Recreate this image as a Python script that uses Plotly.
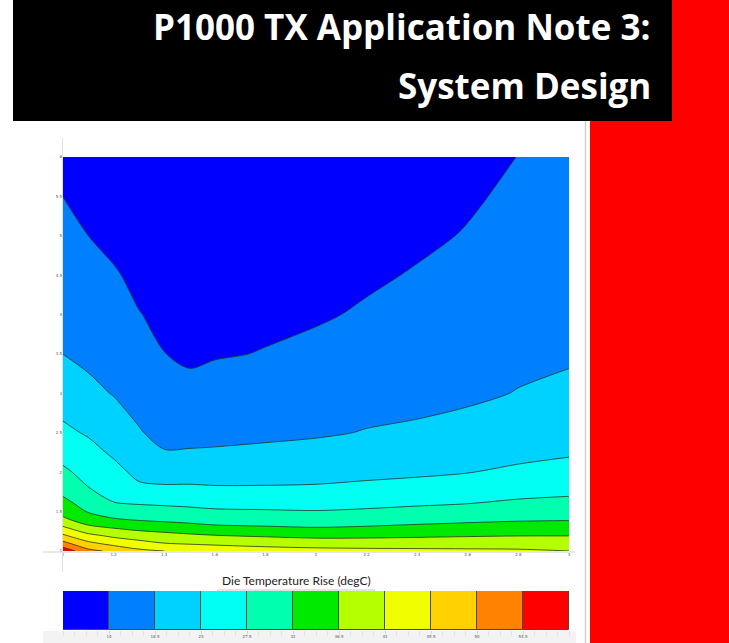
import plotly.graph_objects as go

# ---------------- data ----------------
x_vals = [1.0, 1.1, 1.2, 1.3, 1.4, 1.5, 1.6, 1.8, 2.0, 2.2, 2.4, 2.6, 2.8, 3.0]
y_vals = [1.0, 1.1, 1.2, 1.3, 1.4, 1.5, 1.6, 1.8, 2.0, 2.25, 2.5, 3.0, 3.5, 4.0, 4.5, 5.0, 5.5, 6.0]

# die temperature rise (degC), one row per y value, columns follow x_vals
z_rows = [
    [57.5, 51.3, 49.0, 46.5, 45.5, 44.8, 44.0, 43.0, 42.5, 42.2, 42.0, 41.8, 41.6, 41.0],
    [51.2, 46.4, 43.9, 42.35, 41.0, 40.4, 40.0, 39.3, 38.75, 38.65, 38.75, 38.9, 39.0, 38.6],
    [46.0, 41.9, 39.9, 38.6, 37.8, 37.1, 36.5, 35.8, 35.2, 35.3, 35.65, 36.0, 36.25, 36.3],
    [41.5, 37.4, 36.1, 35.0, 34.25, 33.5, 32.75, 32.35, 32.0, 32.3, 32.85, 33.3, 33.75, 33.9],
    [37.3, 34.25, 32.4, 31.6, 31.1, 30.7, 30.3, 30.1, 29.9, 30.2, 30.6, 31.1, 31.5, 31.7],
    [35.1, 31.7, 30.0, 29.4, 29.0, 28.6, 28.1, 27.9, 27.7, 28.1, 28.7, 29.3, 29.8, 30.1],
    [33.3, 30.4, 27.7, 27.3, 27.0, 26.7, 26.4, 26.3, 26.2, 26.5, 27.0, 27.5, 28.2, 28.6],
    [30.5, 27.6, 25.9, 23.7, 23.5, 23.5, 23.3, 23.3, 23.4, 23.8, 24.3, 25.1, 25.8, 26.25],
    [28.3, 26.1, 24.25, 22.0, 21.3, 21.4, 21.4, 21.5, 21.7, 22.1, 22.4, 22.9, 23.6, 24.3],
    [26.0, 24.3, 22.4, 20.5, 18.9, 19.0, 19.1, 19.5, 19.85, 20.4, 21.0, 21.6, 22.15, 22.6],
    [23.85, 22.6, 20.95, 19.0, 16.5, 16.6, 17.0, 17.5, 18.0, 18.7, 19.3, 20.25, 21.0, 21.6],
    [21.0, 19.6, 18.3, 16.0, 15.3, 15.4, 15.7, 15.9, 16.4, 16.9, 17.0, 17.6, 18.7, 19.7],
    [18.48, 17.5, 16.95, 15.0, 14.05, 13.2, 13.7, 14.15, 14.9, 15.6, 15.9, 16.8, 17.3, 17.8],
    [17.35, 16.5, 15.6, 14.1, 13.4, 12.8, 13.1, 13.3, 13.6, 14.4, 15.1, 16.0, 16.6, 17.2],
    [16.2, 15.3, 14.3, 13.3, 12.9, 12.4, 12.6, 12.9, 13.1, 13.5, 14.25, 15.2, 15.9, 16.6],
    [15.1, 14.0, 13.2, 12.6, 12.4, 12.0, 12.1, 12.4, 12.6, 13.0, 13.4, 14.2, 15.2, 16.0],
    [13.98, 13.0, 12.3, 12.0, 11.9, 11.6, 11.7, 12.0, 12.2, 12.5, 13.0, 13.6, 14.6, 15.4],
    [12.9, 12.1, 11.5, 11.4, 11.4, 11.2, 11.3, 11.6, 11.8, 12.1, 12.6, 13.0, 14.05, 14.8],
]

levels = [14, 18.5, 23, 27.5, 32, 36.5, 41, 45.5, 50, 54.5]
level_labels = ["14", "18.5", "23", "27.5", "32", "36.5", "41", "45.5", "50", "54.5"]
band_index = list(range(11))
band_colors = ["#0000FF", "#0080FF", "#00D2FF", "#00FFF2", "#00FFAE", "#00EA00",
               "#B4FF00", "#F0FF00", "#FFD200", "#FF8200", "#FF0000"]

x_ticks = [1, 1.2, 1.4, 1.6, 1.8, 2, 2.2, 2.4, 2.6, 2.8, 3]
y_ticks = [1, 1.5, 2, 2.5, 3, 3.5, 4, 4.5, 5, 5.5, 6]

title_line1 = "P1000 TX Application Note 3:"
title_line2 = "System Design"
cbar_title = "Die Temperature Rise (degC)"

# ---------------- layout helpers (pixel -> paper) ----------------
W, H = 729, 643
L, R, T, B = 63, 160, 157, 13
PW = W - L - R
PH = H - T - B


def px(x):
    return (x - L) / PW


def py(y):
    return (H - B - y) / PH


colorscale = [[k / 10, c] for k, c in enumerate(band_colors)]

fig = go.Figure()

fig.add_trace(go.Contour(
    x=x_vals, y=y_vals, z=z_rows,
    autocontour=False,
    contours=dict(start=levels[0], end=levels[-1], size=levels[1] - levels[0],
                  coloring="fill", showlabels=False),
    colorscale=colorscale,
    showscale=False,
    line=dict(color="#26342a", width=0.8, smoothing=0.9),
    hoverinfo="skip",
))

fig.add_trace(go.Bar(
    x=[1] * len(band_index), base=band_index, y=[0] * len(band_index),
    orientation="h", width=1,
    marker=dict(color=band_colors, line=dict(color="#4a4a3a", width=1)),
    xaxis="x2", yaxis="y2", hoverinfo="skip",
))

tick_font = dict(family="DejaVu Sans", size=4, color="#555555")

fig.update_layout(
    width=W, height=H,
    margin=dict(l=L, r=R, t=T, b=B, autoexpand=False),
    paper_bgcolor="white", plot_bgcolor="white",
    showlegend=False,
    xaxis=dict(range=[1, 3], tickvals=x_ticks, tickfont=tick_font, showgrid=False,
               zeroline=False, showline=False, ticks="", anchor="y", automargin=False),
    yaxis=dict(range=[1, 6], tickvals=y_ticks, tickfont=tick_font, showgrid=False,
               zeroline=False, showline=False, ticks="", domain=[py(551), 1], anchor="x",
               automargin=False),
    xaxis2=dict(range=[0, 11], tickvals=band_index[1:], ticktext=level_labels,
                tickfont=tick_font, showgrid=False, zeroline=False, ticks="outside",
                ticklen=2, tickcolor="#d0d0d0", anchor="y2", automargin=False,
                minor=dict(ticks="outside", ticklen=5, tickcolor="#e2e2e2", dtick=0.25)),
    yaxis2=dict(range=[-0.5, 0.5], domain=[0, py(591)], showticklabels=False,
                showgrid=False, zeroline=False, anchor="x2", automargin=False),
    bargap=0,
)

shapes = [
    # red side band and black title block
    dict(type="rect", xref="paper", yref="paper", x0=px(590), x1=px(729), y0=py(643), y1=py(0),
         fillcolor="#FF0000", line=dict(width=0), layer="below"),
    dict(type="rect", xref="paper", yref="paper", x0=px(13), x1=px(672), y0=py(121), y1=py(0),
         fillcolor="#000000", line=dict(width=0), layer="below"),
    # page border line
    dict(type="line", xref="paper", yref="paper", x0=px(585.5), x1=px(585.5), y0=py(643), y1=py(121),
         line=dict(color="#cdd5c6", width=1.5)),
    # strip under colour bar
    dict(type="rect", xref="paper", yref="paper", x0=px(43), x1=px(576), y0=py(643), y1=py(631),
         fillcolor="#f3f3f3", line=dict(width=0), layer="below"),
    # axis lines
    dict(type="line", xref="paper", yref="paper", x0=px(43), x1=px(575), y0=py(552), y1=py(552),
         line=dict(color="#d0d0d0", width=1)),
    dict(type="line", xref="paper", yref="paper", x0=px(62.5), x1=px(62.5), y0=py(572), y1=py(138),
         line=dict(color="#e0e0e0", width=1)),
    # underline of colour bar title
    dict(type="line", xref="paper", yref="paper", x0=px(217), x1=px(375), y0=py(590), y1=py(590),
         line=dict(color="#c8c8c8", width=1)),
]
fig.update_layout(shapes=shapes)

title_font = dict(family="Open Sans", size=35, color="white")
fig.add_annotation(text="<b>" + title_line1 + "</b>", xref="paper", yref="paper",
                   x=px(653), y=py(1), xanchor="right", yanchor="top",
                   showarrow=False, font=title_font)
fig.add_annotation(text="<b>" + title_line2 + "</b>", xref="paper", yref="paper",
                   x=px(653), y=py(60), xanchor="right", yanchor="top",
                   showarrow=False, font=title_font)
fig.add_annotation(text=cbar_title, xref="paper", yref="paper",
                   x=px(296), y=py(580), xanchor="center", yanchor="middle",
                   showarrow=False, font=dict(family="Lato", size=12, color="#222222"))

fig.write_html(
    "out.html",
    config={"displayModeBar": False},
    post_script="document.body.style.margin='0';document.body.style.overflow='hidden';",
)
